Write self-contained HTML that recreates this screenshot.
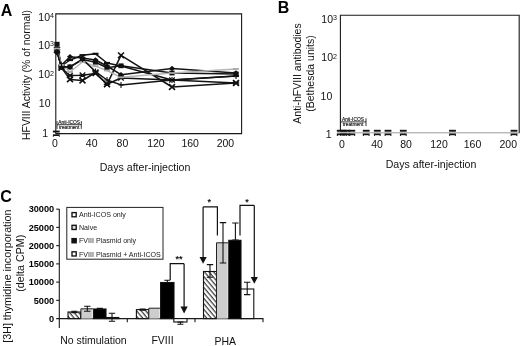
<!DOCTYPE html>
<html lang="en"><head><meta charset="utf-8"><title>Figure</title>
<style>
html,body{margin:0;padding:0;background:#fff;}
body{width:520px;height:346px;overflow:hidden;}
svg{display:block;font-family:"Liberation Sans", sans-serif;}
</style></head>
<body>
<svg width="520" height="346" viewBox="0 0 520 346">
<rect width="520" height="346" fill="#fff"/>
<g style="filter:blur(0.35px)">
<text x="0.8" y="15.8" font-size="16" text-anchor="start" font-weight="bold" fill="#000" >A</text>
<path d="M55.8 134 V13.9 H241.6 V133.6 H55.8" fill="none" stroke="#1a1a1a" stroke-width="1.1"/>
<text x="54" y="20.5" font-size="10.5" text-anchor="end" fill="#111">10<tspan font-size="7.140000000000001" dy="-2.6">4</tspan></text>
<text x="54" y="48.7" font-size="10.5" text-anchor="end" fill="#111">10<tspan font-size="7.140000000000001" dy="-2.6">3</tspan></text>
<text x="54" y="78.3" font-size="10.5" text-anchor="end" fill="#111">10<tspan font-size="7.140000000000001" dy="-2.6">2</tspan></text>
<text x="50.5" y="107.3" font-size="10.5" text-anchor="end" font-weight="normal" fill="#111" >10</text>
<text x="48" y="137.4" font-size="10.5" text-anchor="end" font-weight="normal" fill="#111" >1</text>
<text x="55" y="146.9" font-size="10.5" text-anchor="middle" font-weight="normal" fill="#111" >0</text>
<text x="91.7" y="146.9" font-size="10.5" text-anchor="middle" font-weight="normal" fill="#111" >40</text>
<text x="122.4" y="146.9" font-size="10.5" text-anchor="middle" font-weight="normal" fill="#111" >80</text>
<text x="155.9" y="146.9" font-size="10.5" text-anchor="middle" font-weight="normal" fill="#111" >120</text>
<text x="190.2" y="146.9" font-size="10.5" text-anchor="middle" font-weight="normal" fill="#111" >160</text>
<text x="225.4" y="146.9" font-size="10.5" text-anchor="middle" font-weight="normal" fill="#111" >200</text>
<text x="145" y="171" font-size="10.6" text-anchor="middle" font-weight="normal" fill="#111" >Days after-injection</text>
<text transform="translate(29.8,75) rotate(-90)" font-size="10.4" text-anchor="middle" fill="#111">HFVIII Activity (% of normal)</text>
<path d="M57 124.7 H81.3 M81.3 121.10000000000001 V128.9 M57 121.10000000000001 V128.9" stroke="#222" stroke-width="0.9" fill="none"/>
<text x="69.2" y="123.9" font-size="4.85" text-anchor="middle" font-weight="normal" fill="#111" stroke="#111" stroke-width="0.15">Anti-ICOS</text>
<text x="69.2" y="129.1" font-size="4.85" text-anchor="middle" font-weight="normal" fill="#111" stroke="#111" stroke-width="0.15">treatment</text>
<polyline points="57,44.2 61.5,66.5 70,66.9 82.5,59.6 95.5,62.2 107,67.7 121,65.8 172,73 236,74" fill="none" stroke="#141414" stroke-width="1.5" stroke-linejoin="round"/>
<polyline points="57,52.8 61.5,65 70,56.7 82.5,58 95.5,60 107,66 121,74.7 172,68.5 236,73" fill="none" stroke="#141414" stroke-width="1.5" stroke-linejoin="round"/>
<polyline points="57,48 61.5,66 70,60 82.5,55.2 95.5,53.8 107,63 121,66 172,80 236,76" fill="none" stroke="#141414" stroke-width="1.5" stroke-linejoin="round"/>
<polyline points="57,50 61.5,67.7 70,79.4 82.5,80.5 95.5,72.5 107,84.3 121,55.3 172,87 236,83" fill="none" stroke="#141414" stroke-width="1.5" stroke-linejoin="round"/>
<polyline points="57,50 61.5,68 70,75.5 82.5,75.2 95.5,73.5 107,84.3 121,78 172,80 236,83" fill="none" stroke="#141414" stroke-width="1.5" stroke-linejoin="round"/>
<polyline points="57,48.6 61.5,65 70,72 82.5,62 95.5,66.2 107,70.5 121,77.3 172,73 236,69" fill="none" stroke="#b5b5b5" stroke-width="1.4" stroke-linejoin="round"/>
<polyline points="57,52 61.5,67 70,67 82.5,59.1 95.5,71.6 107,80 121,84.9 172,80 236,76" fill="none" stroke="#141414" stroke-width="1.5" stroke-linejoin="round"/>
<rect x="54.4" y="41.800000000000004" width="5.2" height="4.8" fill="#111"/>
<rect x="58.9" y="64.1" width="5.2" height="4.8" fill="#111"/>
<rect x="67.4" y="64.5" width="5.2" height="4.8" fill="#111"/>
<rect x="79.9" y="57.2" width="5.2" height="4.8" fill="#111"/>
<rect x="92.9" y="59.800000000000004" width="5.2" height="4.8" fill="#111"/>
<rect x="104.4" y="65.3" width="5.2" height="4.8" fill="#111"/>
<rect x="118.4" y="63.4" width="5.2" height="4.8" fill="#111"/>
<rect x="169.4" y="70.6" width="5.2" height="4.8" fill="#111"/>
<rect x="233.4" y="71.6" width="5.2" height="4.8" fill="#111"/>
<path d="M57 50.0 L60 52.8 L57 55.599999999999994 L54 52.8 Z" fill="#111"/>
<path d="M61.5 62.2 L64.5 65 L61.5 67.8 L58.5 65 Z" fill="#111"/>
<path d="M70 53.900000000000006 L73 56.7 L70 59.5 L67 56.7 Z" fill="#111"/>
<path d="M82.5 55.2 L85.5 58 L82.5 60.8 L79.5 58 Z" fill="#111"/>
<path d="M95.5 57.2 L98.5 60 L95.5 62.8 L92.5 60 Z" fill="#111"/>
<path d="M107 63.2 L110 66 L107 68.8 L104 66 Z" fill="#111"/>
<path d="M121 71.9 L124 74.7 L121 77.5 L118 74.7 Z" fill="#111"/>
<path d="M172 65.7 L175 68.5 L172 71.3 L169 68.5 Z" fill="#111"/>
<path d="M236 70.2 L239 73 L236 75.8 L233 73 Z" fill="#111"/>
<rect x="54" y="46.9" width="6" height="2.2" fill="#111"/>
<rect x="58.5" y="64.9" width="6" height="2.2" fill="#111"/>
<rect x="67" y="58.9" width="6" height="2.2" fill="#111"/>
<rect x="79.5" y="54.1" width="6" height="2.2" fill="#111"/>
<rect x="92.5" y="52.699999999999996" width="6" height="2.2" fill="#111"/>
<rect x="104" y="61.9" width="6" height="2.2" fill="#111"/>
<rect x="118" y="64.9" width="6" height="2.2" fill="#111"/>
<rect x="169" y="78.9" width="6" height="2.2" fill="#111"/>
<rect x="233" y="74.9" width="6" height="2.2" fill="#111"/>
<path d="M54 47.2 L60 52.8 M54 52.8 L60 47.2" stroke="#111" stroke-width="1.6" fill="none"/>
<path d="M58.5 64.9 L64.5 70.5 M58.5 70.5 L64.5 64.9" stroke="#111" stroke-width="1.6" fill="none"/>
<path d="M67 76.60000000000001 L73 82.2 M67 82.2 L73 76.60000000000001" stroke="#111" stroke-width="1.6" fill="none"/>
<path d="M79.5 77.7 L85.5 83.3 M79.5 83.3 L85.5 77.7" stroke="#111" stroke-width="1.6" fill="none"/>
<path d="M92.5 69.7 L98.5 75.3 M92.5 75.3 L98.5 69.7" stroke="#111" stroke-width="1.6" fill="none"/>
<path d="M104 81.5 L110 87.1 M104 87.1 L110 81.5" stroke="#111" stroke-width="1.6" fill="none"/>
<path d="M118 52.5 L124 58.099999999999994 M118 58.099999999999994 L124 52.5" stroke="#111" stroke-width="1.6" fill="none"/>
<path d="M169 84.2 L175 89.8 M169 89.8 L175 84.2" stroke="#111" stroke-width="1.6" fill="none"/>
<path d="M233 80.2 L239 85.8 M233 85.8 L239 80.2" stroke="#111" stroke-width="1.6" fill="none"/>
<path d="M54.2 47.4 L59.8 52.6 M54.2 52.6 L59.8 47.4 M53.8 50 H60.2" stroke="#111" stroke-width="1.3" fill="none"/>
<path d="M58.7 65.4 L64.3 70.6 M58.7 70.6 L64.3 65.4 M58.3 68 H64.7" stroke="#111" stroke-width="1.3" fill="none"/>
<path d="M67.2 72.9 L72.8 78.1 M67.2 78.1 L72.8 72.9 M66.8 75.5 H73.2" stroke="#111" stroke-width="1.3" fill="none"/>
<path d="M79.7 72.60000000000001 L85.3 77.8 M79.7 77.8 L85.3 72.60000000000001 M79.3 75.2 H85.7" stroke="#111" stroke-width="1.3" fill="none"/>
<path d="M92.7 70.9 L98.3 76.1 M92.7 76.1 L98.3 70.9 M92.3 73.5 H98.7" stroke="#111" stroke-width="1.3" fill="none"/>
<path d="M104.2 81.7 L109.8 86.89999999999999 M104.2 86.89999999999999 L109.8 81.7 M103.8 84.3 H110.2" stroke="#111" stroke-width="1.3" fill="none"/>
<path d="M118.2 75.4 L123.8 80.6 M118.2 80.6 L123.8 75.4 M117.8 78 H124.2" stroke="#111" stroke-width="1.3" fill="none"/>
<path d="M169.2 77.4 L174.8 82.6 M169.2 82.6 L174.8 77.4 M168.8 80 H175.2" stroke="#111" stroke-width="1.3" fill="none"/>
<path d="M233.2 80.4 L238.8 85.6 M233.2 85.6 L238.8 80.4 M232.8 83 H239.2" stroke="#111" stroke-width="1.3" fill="none"/>
<rect x="54" y="47.7" width="6" height="1.8" fill="#aaa"/>
<rect x="58.5" y="64.1" width="6" height="1.8" fill="#aaa"/>
<rect x="67" y="71.1" width="6" height="1.8" fill="#aaa"/>
<rect x="79.5" y="61.1" width="6" height="1.8" fill="#aaa"/>
<rect x="92.5" y="65.3" width="6" height="1.8" fill="#aaa"/>
<rect x="104" y="69.6" width="6" height="1.8" fill="#aaa"/>
<rect x="118" y="76.39999999999999" width="6" height="1.8" fill="#aaa"/>
<rect x="169" y="72.1" width="6" height="1.8" fill="#aaa"/>
<rect x="233" y="68.1" width="6" height="1.8" fill="#aaa"/>
<path d="M57 49 V55 M54.4 52 H59.6" stroke="#111" stroke-width="1.1" fill="none"/>
<path d="M61.5 64 V70 M58.9 67 H64.1" stroke="#111" stroke-width="1.1" fill="none"/>
<path d="M70 64 V70 M67.4 67 H72.6" stroke="#111" stroke-width="1.1" fill="none"/>
<path d="M82.5 56.1 V62.1 M79.9 59.1 H85.1" stroke="#111" stroke-width="1.1" fill="none"/>
<path d="M95.5 68.6 V74.6 M92.9 71.6 H98.1" stroke="#111" stroke-width="1.1" fill="none"/>
<path d="M107 77 V83 M104.4 80 H109.6" stroke="#111" stroke-width="1.1" fill="none"/>
<path d="M121 81.9 V87.9 M118.4 84.9 H123.6" stroke="#111" stroke-width="1.1" fill="none"/>
<path d="M172 77 V83 M169.4 80 H174.6" stroke="#111" stroke-width="1.1" fill="none"/>
<path d="M236 73 V79 M233.4 76 H238.6" stroke="#111" stroke-width="1.1" fill="none"/>
<rect x="52.9" y="130.6" width="6.8" height="1.9" fill="#111"/>
<rect x="52.9" y="134.29999999999998" width="6.8" height="1.7" fill="#111"/>
<path d="M53.099999999999994 136.79999999999998 L54.3 135.2 M59.5 136.79999999999998 L58.3 135.2" stroke="#222" stroke-width="1" fill="none"/>
<text x="277.8" y="13.3" font-size="16" text-anchor="start" font-weight="bold" fill="#000" >B</text>
<path d="M340.4 130 V15.3 H519.2 V133.2" fill="none" stroke="#1a1a1a" stroke-width="1.1"/>
<path d="M337 132.8 H519" stroke="#9a9a9a" stroke-width="1" fill="none"/>
<text x="337" y="22.6" font-size="10.5" text-anchor="end" fill="#111">10<tspan font-size="7.140000000000001" dy="-2.6">3</tspan></text>
<text x="337" y="61.3" font-size="10.5" text-anchor="end" fill="#111">10<tspan font-size="7.140000000000001" dy="-2.6">2</tspan></text>
<text x="332.3" y="99.7" font-size="10.5" text-anchor="end" font-weight="normal" fill="#111" >10</text>
<text x="331.5" y="138" font-size="10.5" text-anchor="end" font-weight="normal" fill="#111" >1</text>
<text x="341.8" y="147.7" font-size="10.5" text-anchor="middle" font-weight="normal" fill="#111" >0</text>
<text x="377" y="147.7" font-size="10.5" text-anchor="middle" font-weight="normal" fill="#111" >40</text>
<text x="406" y="147.7" font-size="10.5" text-anchor="middle" font-weight="normal" fill="#111" >80</text>
<text x="439" y="147.7" font-size="10.5" text-anchor="middle" font-weight="normal" fill="#111" >120</text>
<text x="472.5" y="147.7" font-size="10.5" text-anchor="middle" font-weight="normal" fill="#111" >160</text>
<text x="508.3" y="147.7" font-size="10.5" text-anchor="middle" font-weight="normal" fill="#111" >200</text>
<text x="431" y="167.8" font-size="10.6" text-anchor="middle" font-weight="normal" fill="#111" >Days after-injection</text>
<text transform="translate(301,73.5) rotate(-90)" font-size="10.5" text-anchor="middle" fill="#111">Anti-hFVIII antibodies</text>
<text transform="translate(314,73.5) rotate(-90)" font-size="10.5" text-anchor="middle" fill="#111">(Bethesda units)</text>
<path d="M340.6 121.9 H366 M366 118.30000000000001 V126.10000000000001 M340.6 118.30000000000001 V126.10000000000001" stroke="#222" stroke-width="0.9" fill="none"/>
<text x="353" y="121.10000000000001" font-size="4.85" text-anchor="middle" font-weight="normal" fill="#111" stroke="#111" stroke-width="0.15">Anti-ICOS</text>
<text x="353" y="126.30000000000001" font-size="4.85" text-anchor="middle" font-weight="normal" fill="#111" stroke="#111" stroke-width="0.15">treatment</text>
<rect x="336.8" y="129.8" width="6.8" height="1.9" fill="#111"/>
<rect x="336.8" y="133.5" width="6.8" height="1.7" fill="#111"/>
<path d="M337.0 136.0 L338.2 134.4 M343.4 136.0 L342.2 134.4" stroke="#222" stroke-width="1" fill="none"/>
<rect x="340.1" y="129.8" width="6.8" height="1.9" fill="#111"/>
<rect x="340.1" y="133.5" width="6.8" height="1.7" fill="#111"/>
<path d="M340.3 136.0 L341.5 134.4 M346.7 136.0 L345.5 134.4" stroke="#222" stroke-width="1" fill="none"/>
<rect x="343.6" y="129.8" width="6.8" height="1.9" fill="#111"/>
<rect x="343.6" y="133.5" width="6.8" height="1.7" fill="#111"/>
<path d="M343.8 136.0 L345 134.4 M350.2 136.0 L349 134.4" stroke="#222" stroke-width="1" fill="none"/>
<rect x="348.40000000000003" y="129.8" width="6.8" height="1.9" fill="#111"/>
<rect x="348.40000000000003" y="133.5" width="6.8" height="1.7" fill="#111"/>
<path d="M348.6 136.0 L349.8 134.4 M355.0 136.0 L353.8 134.4" stroke="#222" stroke-width="1" fill="none"/>
<rect x="362.8" y="129.8" width="6.8" height="1.9" fill="#111"/>
<rect x="362.8" y="133.5" width="6.8" height="1.7" fill="#111"/>
<path d="M363.0 136.0 L364.2 134.4 M369.4 136.0 L368.2 134.4" stroke="#222" stroke-width="1" fill="none"/>
<rect x="373.90000000000003" y="129.8" width="6.8" height="1.9" fill="#111"/>
<rect x="373.90000000000003" y="133.5" width="6.8" height="1.7" fill="#111"/>
<path d="M374.1 136.0 L375.3 134.4 M380.5 136.0 L379.3 134.4" stroke="#222" stroke-width="1" fill="none"/>
<rect x="384.6" y="129.8" width="6.8" height="1.9" fill="#111"/>
<rect x="384.6" y="133.5" width="6.8" height="1.7" fill="#111"/>
<path d="M384.8 136.0 L386 134.4 M391.2 136.0 L390 134.4" stroke="#222" stroke-width="1" fill="none"/>
<rect x="399.90000000000003" y="129.8" width="6.8" height="1.9" fill="#111"/>
<rect x="399.90000000000003" y="133.5" width="6.8" height="1.7" fill="#111"/>
<path d="M400.1 136.0 L401.3 134.4 M406.5 136.0 L405.3 134.4" stroke="#222" stroke-width="1" fill="none"/>
<rect x="449.1" y="129.8" width="6.8" height="1.9" fill="#111"/>
<rect x="449.1" y="133.5" width="6.8" height="1.7" fill="#111"/>
<path d="M449.3 136.0 L450.5 134.4 M455.7 136.0 L454.5 134.4" stroke="#222" stroke-width="1" fill="none"/>
<rect x="510.6" y="129.8" width="6.8" height="1.9" fill="#111"/>
<rect x="510.6" y="133.5" width="6.8" height="1.7" fill="#111"/>
<path d="M510.8 136.0 L512 134.4 M517.2 136.0 L516 134.4" stroke="#222" stroke-width="1" fill="none"/>
<text x="0.3" y="201.5" font-size="16" text-anchor="start" font-weight="bold" fill="#000" >C</text>
<path d="M59.3 209 V328" stroke="#1a1a1a" stroke-width="1.1" fill="none"/>
<path d="M56.2 318.6 H263.4" stroke="#1a1a1a" stroke-width="1.1" fill="none"/>
<text x="54.2" y="321.9" font-size="9.2" text-anchor="end" font-weight="bold" fill="#000" >0</text>
<path d="M56.2 300.36 H59.3" stroke="#1a1a1a" stroke-width="1.1"/>
<text x="54.2" y="303.66" font-size="9.2" text-anchor="end" font-weight="bold" fill="#000" >5000</text>
<path d="M56.2 282.12 H59.3" stroke="#1a1a1a" stroke-width="1.1"/>
<text x="54.2" y="285.42" font-size="9.2" text-anchor="end" font-weight="bold" fill="#000" >10000</text>
<path d="M56.2 263.88 H59.3" stroke="#1a1a1a" stroke-width="1.1"/>
<text x="54.2" y="267.18" font-size="9.2" text-anchor="end" font-weight="bold" fill="#000" >15000</text>
<path d="M56.2 245.64 H59.3" stroke="#1a1a1a" stroke-width="1.1"/>
<text x="54.2" y="248.94" font-size="9.2" text-anchor="end" font-weight="bold" fill="#000" >20000</text>
<path d="M56.2 227.40 H59.3" stroke="#1a1a1a" stroke-width="1.1"/>
<text x="54.2" y="230.7" font-size="9.2" text-anchor="end" font-weight="bold" fill="#000" >25000</text>
<path d="M56.2 209.16 H59.3" stroke="#1a1a1a" stroke-width="1.1"/>
<text x="54.2" y="212.46" font-size="9.2" text-anchor="end" font-weight="bold" fill="#000" >30000</text>
<path d="M127.3 318.6 V322.3" stroke="#1a1a1a" stroke-width="1.1"/>
<path d="M195 318.6 V322.3" stroke="#1a1a1a" stroke-width="1.1"/>
<path d="M263 318.6 V322.3" stroke="#1a1a1a" stroke-width="1.1"/>
<text transform="translate(10.6,276.2) rotate(-90)" font-size="10.7" text-anchor="middle" fill="#111">[3H] thymidine incorporation</text>
<text transform="translate(24.1,263.2) rotate(-90)" font-size="10.7" text-anchor="middle" fill="#111">(delta CPM)</text>
<text x="93.4" y="344" font-size="10.5" text-anchor="middle" font-weight="normal" fill="#111" >No stimulation</text>
<text x="162.5" y="344" font-size="10.5" text-anchor="middle" font-weight="normal" fill="#111" >FVIII</text>
<text x="225.3" y="345" font-size="10.5" text-anchor="middle" font-weight="normal" fill="#111" >PHA</text>
<rect x="66.8" y="207.4" width="96.2" height="51.8" fill="#fff" stroke="#222" stroke-width="1"/>
<rect x="72" y="212.60000000000002" width="4.2" height="4.2" fill="#fff" stroke="#111" stroke-width="1.35"/>
<text x="79" y="217.3" font-size="7.1" text-anchor="start" font-weight="normal" fill="#222" >Anti-ICOS only</text>
<rect x="72" y="225.3" width="4.2" height="4.2" fill="#ddd" stroke="#111" stroke-width="1.35"/>
<text x="79" y="230.0" font-size="7.1" text-anchor="start" font-weight="normal" fill="#222" >Naive</text>
<rect x="72" y="238.60000000000002" width="4.2" height="4.2" fill="#111" stroke="#111" stroke-width="1.35"/>
<text x="79" y="243.3" font-size="7.1" text-anchor="start" font-weight="normal" fill="#222" >FVIII Plasmid only</text>
<rect x="72" y="251.8" width="4.2" height="4.2" fill="#fff" stroke="#111" stroke-width="1.35"/>
<text x="79" y="256.5" font-size="7.1" text-anchor="start" font-weight="normal" fill="#222" >FVIII Plasmid + Anti-ICOS</text>
<defs><pattern id="h" width="3.5" height="3.5" patternUnits="userSpaceOnUse" patternTransform="rotate(50)"><rect width="3.5" height="3.5" fill="#fff"/><rect width="3.5" height="1.25" fill="#3c3c3c"/></pattern></defs>
<rect x="68" y="312" width="12.599999999999994" height="6.600000000000023" fill="url(#h)" stroke="#111" stroke-width="1.1"/>
<rect x="80.9" y="308.8" width="11.599999999999989" height="9.800000000000011" fill="#cdcdcd"/>
<path d="M80.9 318.6 V308.8 H93.0" fill="none" stroke="#222" stroke-width="1"/>
<rect x="93.6" y="309" width="12.400000000000006" height="9.600000000000023" fill="#000" stroke="#111" stroke-width="1.1"/>
<rect x="106" y="317.5" width="12.799999999999997" height="1.1000000000000227" fill="#fff" stroke="#111" stroke-width="1.1"/>
<path d="M74.3 311.3 V312.6 M71.3 311.3 H77.3 M71.3 312.6 H77.3" stroke="#111" stroke-width="1.1" fill="none"/>
<path d="M87.3 306.2 V311.2 M84.1 306.2 H90.5 M84.1 311.2 H90.5" stroke="#111" stroke-width="1.1" fill="none"/>
<path d="M99.8 308.4 V309.3 M96.8 308.4 H102.8 M96.8 309.3 H102.8" stroke="#111" stroke-width="1.1" fill="none"/>
<path d="M112 313.2 V321.2 M108.8 313.2 H115.2 M108.8 321.2 H115.2" stroke="#111" stroke-width="1.1" fill="none"/>
<rect x="136.4" y="309.6" width="12.400000000000006" height="9.0" fill="url(#h)" stroke="#111" stroke-width="1.1"/>
<rect x="148.8" y="308.2" width="10.699999999999983" height="10.400000000000034" fill="#cdcdcd"/>
<path d="M148.8 318.6 V308.2 H160.0" fill="none" stroke="#222" stroke-width="1"/>
<rect x="160.6" y="282.5" width="13.400000000000006" height="36.10000000000002" fill="#000" stroke="#111" stroke-width="1.1"/>
<rect x="173.8" y="318.6" width="13.199999999999989" height="3.3999999999999773" fill="#fff" stroke="#111" stroke-width="1.1"/>
<path d="M142.6 309 V310.2 M139.6 309 H145.6 M139.6 310.2 H145.6" stroke="#111" stroke-width="1.1" fill="none"/>
<path d="M167.3 280.3 V282.5 M164.3 280.3 H170.3 M164.3 282.5 H170.3" stroke="#111" stroke-width="1.1" fill="none"/>
<path d="M180.4 322 V324.2 M177.4 322 H183.4 M177.4 324.2 H183.4" stroke="#111" stroke-width="1.1" fill="none"/>
<rect x="203.5" y="271.5" width="13.0" height="47.10000000000002" fill="url(#h)" stroke="#111" stroke-width="1.1"/>
<rect x="216.5" y="242.8" width="11.200000000000012" height="75.80000000000001" fill="#cdcdcd"/>
<path d="M216.5 318.6 V242.8 H228.20000000000002" fill="none" stroke="#222" stroke-width="1"/>
<rect x="228.8" y="240.3" width="12.199999999999989" height="78.30000000000001" fill="#000" stroke="#111" stroke-width="1.1"/>
<rect x="241" y="289" width="12.800000000000011" height="29.600000000000023" fill="#fff" stroke="#111" stroke-width="1.1"/>
<path d="M210 264.6 V277.2 M206.8 264.6 H213.2 M206.8 277.2 H213.2" stroke="#111" stroke-width="1.1" fill="none"/>
<path d="M223 222.6 V263 M219.8 222.6 H226.2 M219.8 263 H226.2" stroke="#111" stroke-width="1.1" fill="none"/>
<path d="M235.4 223 V240 M232.20000000000002 223 H238.6 M232.20000000000002 240 H238.6" stroke="#111" stroke-width="1.1" fill="none"/>
<path d="M247.2 282.3 V294.6 M244.0 282.3 H250.39999999999998 M244.0 294.6 H250.39999999999998" stroke="#111" stroke-width="1.1" fill="none"/>
<path d="M170.2 280 V263.7 H184.1" stroke="#111" stroke-width="1.2" fill="none"/>
<path d="M184.1 263.7 V308.4" stroke="#111" stroke-width="1.2" fill="none"/>
<path d="M180.5 306.59999999999997 H187.7 L184.1 313.4 Z" fill="#111"/>
<path d="M217.4 235.4 V206.9 H203.1" stroke="#111" stroke-width="1.2" fill="none"/>
<path d="M203.1 206.9 V258.8" stroke="#111" stroke-width="1.2" fill="none"/>
<path d="M199.5 257.0 H206.7 L203.1 263.8 Z" fill="#111"/>
<path d="M240 235.4 V205.4 H254.3" stroke="#111" stroke-width="1.2" fill="none"/>
<path d="M254.3 205.4 V278.8" stroke="#111" stroke-width="1.2" fill="none"/>
<path d="M250.70000000000002 277.0 H257.90000000000003 L254.3 283.8 Z" fill="#111"/>
<text x="179" y="262" font-size="9" text-anchor="middle" font-weight="bold" fill="#111" >**</text>
<text x="209.3" y="204.5" font-size="9" text-anchor="middle" font-weight="bold" fill="#111" >*</text>
<text x="247" y="204.8" font-size="9" text-anchor="middle" font-weight="bold" fill="#111" >*</text>
</g>
</svg>
</body></html>
